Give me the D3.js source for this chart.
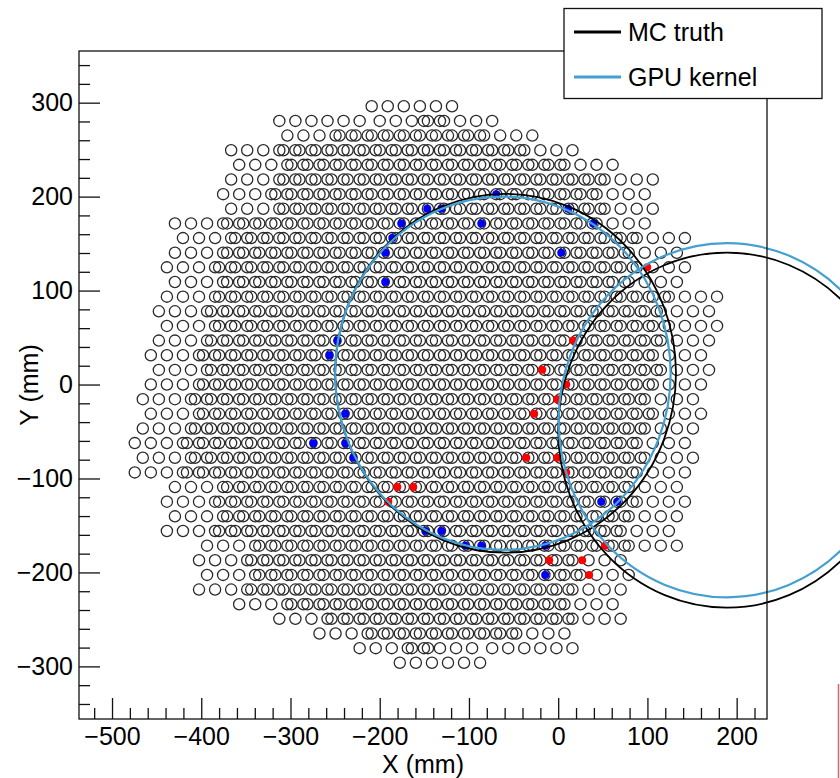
<!DOCTYPE html>
<html lang="en">
<head>
  <meta charset="utf-8" />
  <title>RICH ring fit</title>
  <style>
    body { margin: 0; background: #fff; }
    svg { display: block; font-family: "Liberation Sans", Arial, Helvetica, sans-serif; }
  </style>
</head>
<body>
<script src="https://cdn.jsdelivr.net/npm/d3@7"></script>
<script>
  // PMT rows of the two flanges, as [row, first column, last column].
  // rows and columns are positions on the 18 mm hexagonal grid.
  var flangeA = [
    [18, -17, -12], [18, -8, -7], [17, -17, -5], [16, -20, -2], [15, -20, 0],
    [14, -20, 3], [13, -21, 2], [12, -20, 3], [11, -24, 2], [10, -23, 5],
    [9, -24, 4], [8, -24, 5], [7, -24, 4], [6, -24, 7], [5, -25, 6],
    [4, -24, 7], [3, -25, 6], [2, -25, 6], [1, -25, 6], [0, -25, 6],
    [-1, -26, 5], [-2, -25, 6], [-3, -26, 5], [-4, -26, 5], [-5, -26, 5],
    [-6, -26, 5], [-7, -24, 4], [-8, -24, 5], [-9, -24, 4], [-10, -24, 4],
    [-11, -22, 4], [-12, -22, 1], [-13, -22, 1], [-14, -22, 1], [-15, -20, 0],
    [-16, -17, 1], [-17, -15, -3], [-18, -12, -5], [-19, -10, -5]
  ];
  var flangeB = [
    [19, -12, -7], [18, -11, -4], [17, -14, -2], [16, -17, 1], [15, -17, 3],
    [14, -17, 6], [13, -18, 5], [12, -17, 6], [11, -21, 5], [10, -20, 8],
    [9, -21, 7], [8, -21, 8], [7, -21, 7], [6, -21, 10], [5, -22, 9],
    [4, -21, 10], [3, -22, 9], [2, -22, 9], [1, -22, 9], [0, -22, 9],
    [-1, -23, 8], [-2, -22, 9], [-3, -23, 8], [-4, -23, 8], [-5, -23, 8],
    [-6, -23, 8], [-7, -21, 7], [-8, -21, 8], [-9, -21, 7], [-10, -21, 7],
    [-11, -19, 7], [-12, -19, 4], [-13, -19, 4], [-14, -19, 4], [-15, -17, 3],
    [-16, -14, 4], [-17, -12, 0], [-18, -9, -8], [-18, -4, 1]
  ];

  // fired PMTs (mm)
  var hitsBlue = [
    [-69.4, 202.6], [-146.7, 187.1], [-131.0, 187.1], [11.2, 187.1],
    [-175.8, 171.5], [-86.2, 171.5], [39.2, 171.5], [-185.9, 155.9],
    [-193.7, 140.3], [3.4, 140.3], [-193.7, 109.1], [-247.5, 46.8],
    [-256.4, 31.2], [-238.5, -31.2], [-274.4, -62.4], [-238.5, -62.4],
    [-229.6, -77.9], [48.2, -124.7], [66.1, -124.7], [-148.9, -155.9],
    [-131.0, -155.9], [-104.1, -171.5], [-86.2, -171.5], [-14.6, -171.5],
    [-14.6, -202.6]
  ];
  var hitsRed = [
    [99.7, 124.7], [16.8, 46.8], [-17.9, 15.6], [9.0, 0], [-1.1, -15.6],
    [-26.9, -31.2], [-35.8, -77.9], [-1.1, -77.9], [9.0, -93.5],
    [-180.3, -109.1], [-162.4, -109.1], [-190.4, -124.7], [52.6, -171.5],
    [-10.1, -187.1], [26.9, -187.1], [34.7, -202.6]
  ];

  // rings as [centre x, centre y, radius] in mm
  var ringsTruth = [[-59, 12, 191], [189, -48.5, 189]];
  var ringsGpu = [[-62, 12, 188], [189, -38, 188.5]];

  var legendNames = ["MC truth", "GPU kernel"];
  var legendColors = ["#000000", "#45a0d2"];

  var xTicks = [-500, -400, -300, -200, -100, 0, 100, 200];
  var yTicks = [-300, -200, -100, 0, 100, 200, 300];

  const W = 840, H = 778;
  const frame = {left: 79, right: 767, top: 51, bottom: 719};
  const pitch = 18, rowPitch = 15.588, shiftB = 4.5;

  var svg = d3.select("body").append("svg")
      .attr("width", W)
      .attr("height", H);

  let x = d3.scaleLinear([-537, 234], [frame.left, frame.right]);
  let y = d3.scaleLinear([-356, 355], [frame.bottom, frame.top]);

  // grid position of a PMT: odd rows are offset by half a pitch
  function pmtX(row, col) {
    return -6.5 + pitch * col + (Math.abs(row) % 2 ? pitch / 2 : 0);
  }

  function expand(segs, dx) {
    let out = [];
    for (let s of segs) {
      for (let c = s[1]; c <= s[2]; c++) {
        out.push([pmtX(s[0], c) + dx, s[0] * rowPitch]);
      }
    }
    return out;
  }
  var pmts = expand(flangeA, 0).concat(expand(flangeB, shiftB));

  svg.append("g")
      .selectAll("circle")
      .data(pmts)
      .join("circle")
      .attr("cx", d => x(d[0]))
      .attr("cy", d => y(d[1]))
      .attr("r", 5.6)
      .attr("fill", "none")
      .attr("stroke", "#2a2a2a")
      .attr("stroke-width", 1.3);

  svg.append("g")
      .selectAll("circle")
      .data(hitsBlue)
      .join("circle")
      .attr("cx", d => x(d[0]))
      .attr("cy", d => y(d[1]))
      .attr("r", 4)
      .attr("fill", "#0000ff");

  svg.append("g")
      .selectAll("circle")
      .data(hitsRed)
      .join("circle")
      .attr("cx", d => x(d[0]))
      .attr("cy", d => y(d[1]))
      .attr("r", 4)
      .attr("fill", "#ff0000");

  function drawRings(data, color, width) {
    svg.append("g")
        .selectAll("ellipse")
        .data(data)
        .join("ellipse")
        .attr("cx", d => x(d[0]))
        .attr("cy", d => y(d[1]))
        .attr("rx", d => x(d[0] + d[2]) - x(d[0]))
        .attr("ry", d => y(d[1]) - y(d[1] + d[2]))
        .attr("fill", "none")
        .attr("stroke", color)
        .attr("stroke-width", width);
  }
  drawRings(ringsTruth, legendColors[0], 1.8);
  drawRings(ringsGpu, legendColors[1], 2.2);

  // axes, ticks pointing inside the frame
  function minor(lo, hi) {
    let v = [];
    for (let t = lo; t <= hi; t += 20) if (t % 100 != 0) v.push(t);
    return v;
  }

  let xAxisG = svg.append("g")
      .attr("transform", `translate(0, ${frame.bottom})`)
      .call(d3.axisBottom(x).tickValues(xTicks).tickSize(-21).tickPadding(8)
        .tickFormat(d => String(d).replace("-", "\u2212")));
  svg.append("g")
      .attr("transform", `translate(0, ${frame.bottom})`)
      .call(d3.axisBottom(x).tickValues(minor(-520, 220)).tickSize(-11).tickFormat(""));

  let yAxisG = svg.append("g")
      .attr("transform", `translate(${frame.left}, 0)`)
      .call(d3.axisLeft(y).tickValues(yTicks).tickSize(-21).tickPadding(6)
        .tickFormat(d => String(d).replace("-", "\u2212")));
  svg.append("g")
      .attr("transform", `translate(${frame.left}, 0)`)
      .call(d3.axisLeft(y).tickValues(minor(-340, 340)).tickSize(-11).tickFormat(""));

  svg.selectAll(".domain").remove();
  svg.selectAll(".tick line").attr("stroke", "#111").attr("stroke-width", 1.3);
  svg.selectAll(".tick text")
      .attr("font-size", 25)
      .attr("font-family", "Liberation Sans, Arial, sans-serif")
      .attr("fill", "#000");

  svg.append("rect")
      .attr("x", frame.left)
      .attr("y", frame.top)
      .attr("width", frame.right - frame.left)
      .attr("height", frame.bottom - frame.top)
      .attr("fill", "none")
      .attr("stroke", "#111")
      .attr("stroke-width", 1.3);

  svg.append("text")
      .attr("x", (frame.left + frame.right) / 2)
      .attr("y", 773)
      .attr("text-anchor", "middle")
      .attr("font-size", 25)
      .text("X (mm)");

  svg.append("text")
      .attr("transform", `translate(38, ${(frame.top + frame.bottom) / 2}) rotate(-90)`)
      .attr("text-anchor", "middle")
      .attr("font-size", 25)
      .text("Y (mm)");

  // legend
  let legend = svg.append("g");
  legend.append("rect")
      .attr("x", 564)
      .attr("y", 8.5)
      .attr("width", 258)
      .attr("height", 90)
      .attr("fill", "#fff")
      .attr("stroke", "#111")
      .attr("stroke-width", 1.3);
  let entry = legend.selectAll("g.entry")
      .data(legendNames)
      .join("g")
      .attr("class", "entry")
      .attr("transform", (d, i) => `translate(0, ${32 + i * 45})`);
  entry.append("line")
      .attr("x1", 574)
      .attr("x2", 621)
      .attr("stroke", (d, i) => legendColors[i])
      .attr("stroke-width", 3);
  entry.append("text")
      .attr("x", 628)
      .attr("y", 9)
      .attr("font-size", 25)
      .text(d => d);

  // stray edge of a neighbouring pad
  svg.append("line")
      .attr("x1", 838.5).attr("x2", 838.5)
      .attr("y1", 684).attr("y2", H)
      .attr("stroke", "#c86a6a")
      .attr("stroke-width", 1.5);
</script>
</body>
</html>
